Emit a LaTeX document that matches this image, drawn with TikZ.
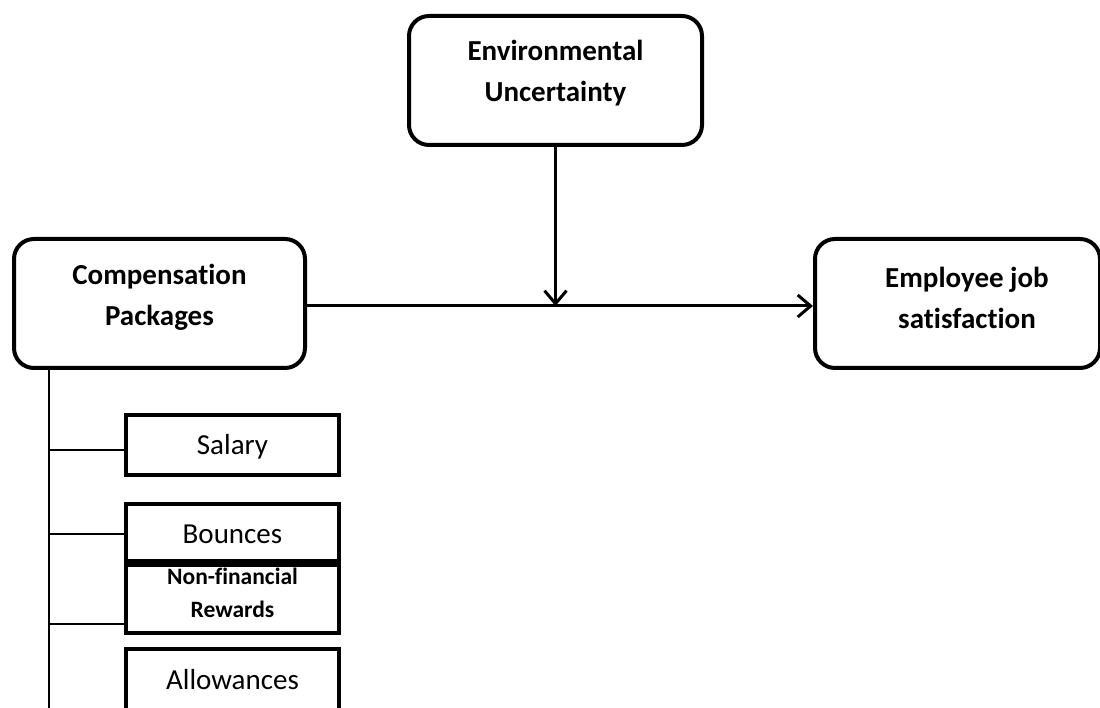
\documentclass[tikz,border=0pt]{standalone}
\usepackage{fontspec}
\setmainfont{Carlito}[Ligatures=NoCommon]
\usetikzlibrary{arrows.meta,calc}
\begin{document}
\begin{tikzpicture}[x=1pt,y=1pt,
  rbox/.style={draw, line width=4pt, rounded corners=20pt, inner sep=0pt},
  sbox/.style={draw, line width=4pt, inner sep=0pt, minimum width=213pt},
  btxt/.style={font=\fontsize{29}{41}\selectfont\bfseries, align=center, inner sep=0pt},
  rtxt/.style={font=\fontsize{29}{35}\selectfont, inner sep=0pt},
  stxt/.style={font=\fontsize{23.5}{33}\selectfont\bfseries, align=center, inner sep=0pt},
  arr/.style={line width=3pt, -{Straight Barb[length=13pt,width=22pt,line width=3pt]}},
  thinline/.style={line width=1.5pt}
]
\useasboundingbox (0,0) rectangle (1100,708);
\clip (0,0) rectangle (1100,708);

% main boxes
\node[rbox, minimum width=293pt, minimum height=129pt] (env) at (555.5,627.5) {};
\node[rbox, minimum width=291pt, minimum height=129pt] (comp) at (159.5,404.5) {};
\node[rbox, minimum width=285pt, minimum height=129pt] (emp) at (957.5,404.5) {};

\node[btxt] (envtxt) at (555.5,635) {Environmental\\Uncertainty};
\node[btxt] (comptxt) at (159.5,410.5) {Compensation\\Packages};
\node[btxt] (emptxt) at (967,410) {Employee job\\satisfaction};

% sub boxes
\node[sbox, minimum height=60pt] (sal) at (232.5,263) {};
\node[sbox, minimum height=57pt] (bon) at (232.5,175.5) {};
\node[sbox, minimum height=68pt] (nfr) at (232.5,109) {};
\node[sbox, minimum height=61pt] (alw) at (232.5,28.5) {};

\node[rtxt] (saltxt) at (232.5,261) {Salary};
\node[rtxt] (bontxt) at (232.5,174) {Bounces};
\node[stxt] (nfrtxt) at (232.5,115.5) {Non-financial\\Rewards};
\node[rtxt] (alwtxt) at (232.5,28) {Allowances};

% connectors
\coordinate (m) at (555.5,402);
\coordinate (tb) at (49,-2);
\draw[arr] (env.south) -- (m);
\draw[arr] (comp.east |- m) -- (emp.west |- m);

\draw[thinline] (comp.south -| tb) -- (tb);
\draw[thinline] ([yshift=-5pt]sal.west -| tb) -- ([yshift=-5pt]sal.west);
\draw[thinline] ([yshift=-1.5pt]bon.west -| tb) -- ([yshift=-1.5pt]bon.west);
\draw[thinline] ([yshift=-25pt]nfr.west -| tb) -- ([yshift=-25pt]nfr.west);
\end{tikzpicture}
\end{document}
